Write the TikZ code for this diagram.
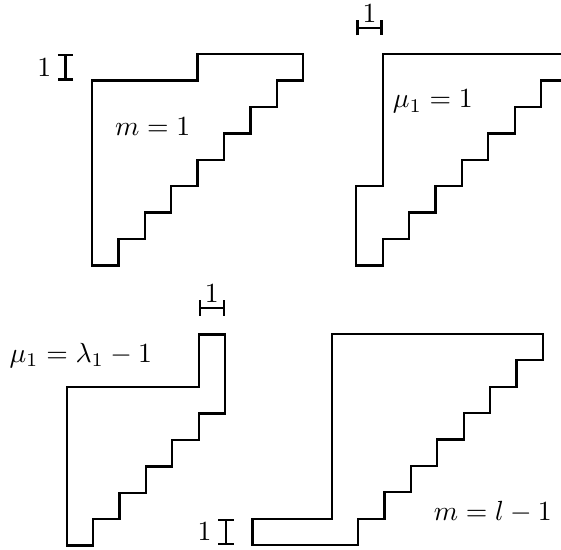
\documentclass[tikz,border=0pt]{standalone}
\usepackage{tikz}
\usetikzlibrary{arrows.meta}

\begin{document}
\begin{tikzpicture}[
  x=0.335cm, y=0.335cm,
  outline/.style={draw=black, thick, line join=miter},
  dimbar/.style={thick, {Bar[width=5.5pt]}-{Bar[width=5.5pt]}},
  lbl/.style={inner sep=1pt}
]
\useasboundingbox (0,0) rectangle (21.25,20.83);
\clip (0,0) rectangle (21.25,20.83);

% Top left: m = 1
\begin{scope}[shift={(3.485,17.777)}]
  \draw[outline] (0,0) -- (4,0) -- (4,1) -- (8,1) -- (8,0) -- (7,0) -- (7,-1) -- (6,-1)
    -- (6,-2) -- (5,-2) -- (5,-3) -- (4,-3) -- (4,-4) -- (3,-4) -- (3,-5) -- (2,-5)
    -- (2,-6) -- (1,-6) -- (1,-7) -- (0,-7) -- cycle;
  \node[lbl] (mone) at (2.3,-1.74) {$m=1$};
  \coordinate (hlo) at (-1,0);
  \coordinate (hhi) at (-1,1);
  \draw[dimbar] (hlo) -- node[left=1.5pt] (hone) {$1$} (hhi);
\end{scope}

% Top right: mu_1 = 1
\begin{scope}[shift={(14.496,17.777)}]
  \draw[outline] (0,1) -- (9,1) -- (9,0) -- (6,0) -- (6,-1) -- (5,-1) -- (5,-2) -- (4,-2)
    -- (4,-3) -- (3,-3) -- (3,-4) -- (2,-4) -- (2,-5) -- (1,-5) -- (1,-6) -- (0,-6)
    -- (0,-7) -- (-1,-7) -- (-1,-4) -- (0,-4) -- cycle;
  \node[lbl] (muone) at (1.9,-0.8) {$\mu_1=1$};
  \coordinate (wlo) at (-1,2);
  \coordinate (whi) at (0,2);
  \draw[dimbar] (wlo) -- node[above, inner sep=1.5pt] (wone) {$1$} (whi);
\end{scope}

% Bottom left: mu_1 = lambda_1 - 1
\begin{scope}[shift={(2.527,6.163)}]
  \draw[outline] (0,0) -- (5,0) -- (5,2) -- (6,2) -- (6,-1) -- (5,-1) -- (5,-2) -- (4,-2)
    -- (4,-3) -- (3,-3) -- (3,-4) -- (2,-4) -- (2,-5) -- (1,-5) -- (1,-6) -- (0,-6) -- cycle;
  \node[lbl] (mulam) at (0.53,1.19) {$\mu_1=\lambda_1-1$};
  \coordinate (clo) at (5,3);
  \coordinate (chi) at (6,3);
  \draw[dimbar] (clo) -- node[above, inner sep=1.5pt] (cone) {$1$} (chi);
\end{scope}

% Bottom right: m = l - 1
\begin{scope}[shift={(12.564,8.182)}]
  \draw[outline] (0,0) -- (8,0) -- (8,-1) -- (7,-1) -- (7,-2) -- (6,-2) -- (6,-3) -- (5,-3)
    -- (5,-4) -- (4,-4) -- (4,-5) -- (3,-5) -- (3,-6) -- (2,-6) -- (2,-7) -- (1,-7)
    -- (1,-8) -- (-3,-8) -- (-3,-7) -- (0,-7) -- cycle;
  \node[lbl] (mlone) at (6.1,-6.74) {$m=l-1$};
  \coordinate (rlo) at (-4,-8);
  \coordinate (rhi) at (-4,-7);
  \draw[dimbar] (rlo) -- node[left=1.5pt] (rone) {$1$} (rhi);
\end{scope}
\end{tikzpicture}
\end{document}
